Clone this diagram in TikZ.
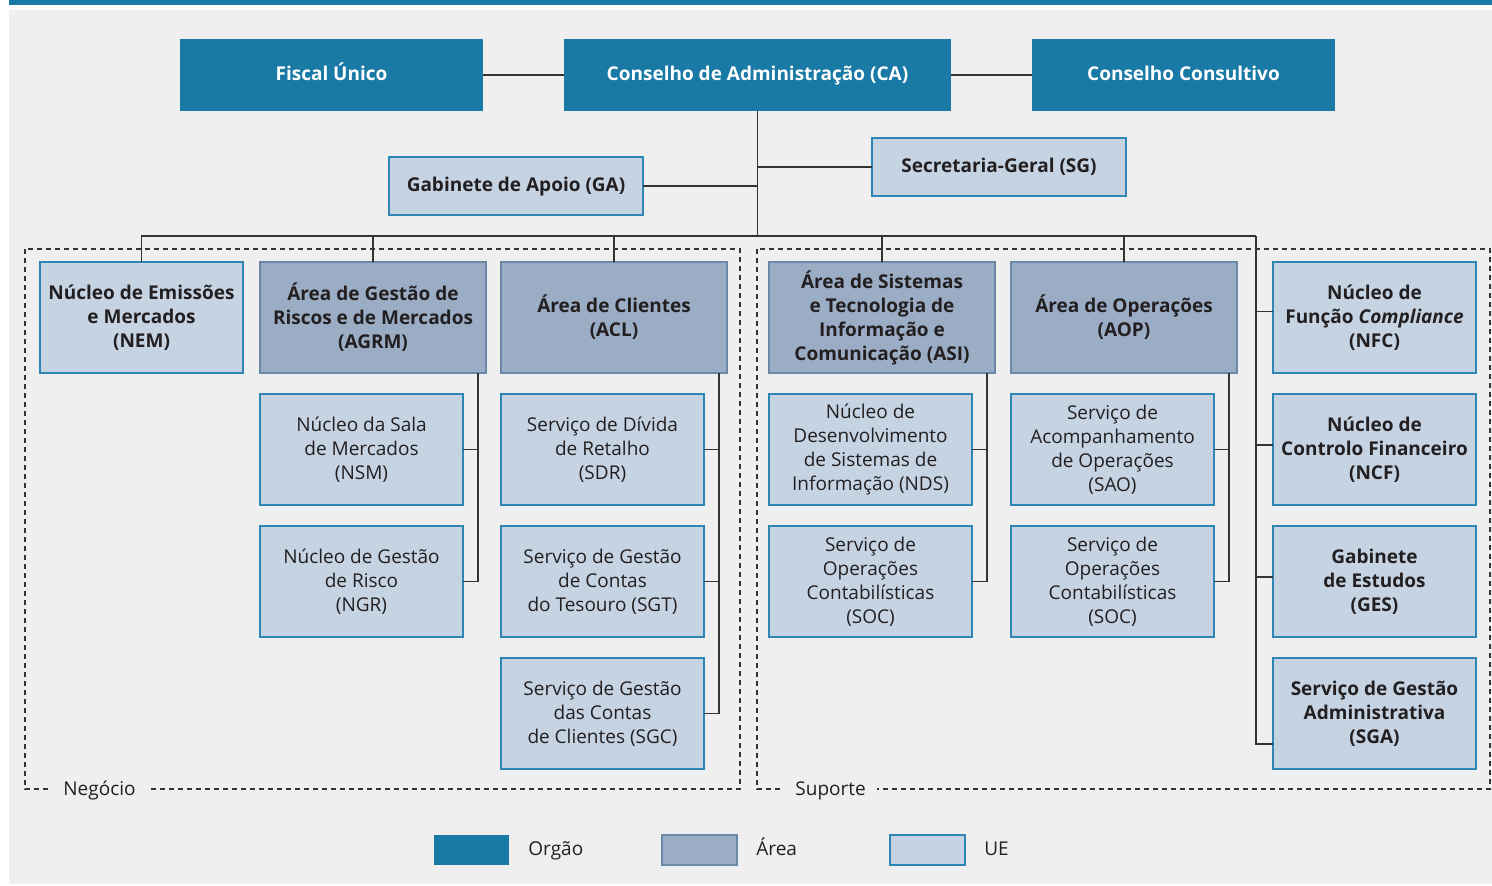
\documentclass[tikz,border=0pt]{standalone}
\usepackage{fontspec}
\setmainfont{Open Sans}
\usetikzlibrary{positioning}
\definecolor{orgaoBlue}{HTML}{1A7AA6}
\definecolor{areaFill}{HTML}{9AADC5}
\definecolor{areaLine}{HTML}{6A88A8}
\definecolor{ueFill}{HTML}{C5D3E3}
\definecolor{ueLine}{HTML}{2E86B4}
\definecolor{bgGray}{HTML}{EFEFEF}
\definecolor{txt}{HTML}{231F20}
\definecolor{wire}{HTML}{333333}
\newcommand{\boxfont}{\fontsize{9.5}{12}\selectfont}

\begin{document}
\begin{tikzpicture}[
    x=0.5pt, y=-0.5pt,
    box/.style={%
      rectangle,
      inner sep=0pt,
      outer sep=0pt,
      align=center,
      anchor=north west,
      text=txt,
      font=\boxfont,
    },
    orgao/.style={%
      box,
      fill=orgaoBlue,
      text=white,
      font=\boxfont\bfseries,
      text height=7pt,
      text depth=2pt,
      minimum height=36pt,
    },
    area/.style={%
      box,
      fill=areaFill,
      draw=areaLine,
      line width=0.7pt,
      font=\boxfont\bfseries,
      minimum width=113pt,
      minimum height=55.5pt,
    },
    ue/.style={%
      box,
      fill=ueFill,
      draw=ueLine,
      line width=0.7pt,
      minimum width=101.5pt,
      minimum height=55.5pt,
    },
    uebold/.style={%
      ue,
      font=\boxfont\bfseries,
    },
    wire/.style={%
      draw=wire,
      line width=0.8pt,
    },
    region/.style={%
      draw=wire,
      dash pattern=on 2.5pt off 2pt,
      line width=0.6pt,
    },
    regionlabel/.style={%
      fill=bgGray,
      inner xsep=5.5pt,
      inner ysep=1pt,
      anchor=west,
      text=txt,
      text height=7pt,
      text depth=2pt,
      font=\boxfont,
    },
    swatch/.style={%
      rectangle,
      inner sep=0pt,
      outer sep=0pt,
      anchor=north west,
      minimum width=37.5pt,
      minimum height=15pt,
      line width=0.7pt,
    },
    legendtext/.style={%
      inner sep=0pt,
      text=txt,
      text height=7pt,
      text depth=2pt,
      font=\boxfont,
    },
  ]

    \useasboundingbox (0,0) rectangle (1492,885);
    \fill[orgaoBlue] (9,0) rectangle (1492,5);
    \fill[bgGray] (9,10) rectangle (1492,884);

    % orgaos
    \node [orgao, minimum width=151.5pt] (FU) at (180,39) {Fiscal Único};
    \node [orgao, minimum width=193.5pt] (CA) at (564,39) {Conselho de Administração (CA)};
    \node [orgao, minimum width=151.5pt] (CC) at (1032,39) {Conselho Consultivo};
    \node [uebold, minimum width=127pt, minimum height=29pt, text height=7pt, text depth=2pt] (SG) at (872,138) {Secretaria-Geral (SG)};
    \node [uebold, minimum width=127pt, minimum height=29pt, text height=7pt, text depth=2pt] (GA) at (389,157) {Gabinete de Apoio (GA)};

    % first row
    \node [uebold] (NEM) at (40,262) {Núcleo de Emissões\\e Mercados\\(NEM)};
    \node [area] (AGRM) at (260,262) {Área de Gestão de\\Riscos e de Mercados\\(AGRM)};
    \node [area] (ACL) at (501,262) {Área de Clientes\\(ACL)};
    \node [area] (ASI) at (769,262) {Área de Sistemas\\e Tecnologia de\\Informação e\\Comunicação (ASI)};
    \node [area] (AOP) at (1011,262) {Área de Operações\\(AOP)};
    \node [uebold] (NFC) at (1273,262) {Núcleo de\\Função \textit{Compliance}\\(NFC)};

    % units below the areas
    \node [ue, below=10.5pt of AGRM.south west, anchor=north west] (NSM) {Núcleo da Sala\\de Mercados\\(NSM)};
    \node [ue, below=10.5pt of NSM] (NGR) {Núcleo de Gestão\\de Risco\\(NGR)};
    \node [ue, below=10.5pt of ACL.south west, anchor=north west] (SDR) {Serviço de Dívida\\de Retalho\\(SDR)};
    \node [ue, below=10.5pt of SDR] (SGT) {Serviço de Gestão\\de Contas\\do Tesouro (SGT)};
    \node [ue, below=10.5pt of SGT] (SGC) {Serviço de Gestão\\das Contas\\de Clientes (SGC)};
    \node [ue, below=10.5pt of ASI.south west, anchor=north west] (NDS) {Núcleo de\\Desenvolvimento\\de Sistemas de\\Informação (NDS)};
    \node [ue, below=10.5pt of NDS] (SOCa) {Serviço de\\Operações\\Contabilísticas\\(SOC)};
    \node [ue, below=10.5pt of AOP.south west, anchor=north west] (SAO) {Serviço de\\Acompanhamento\\de Operações\\(SAO)};
    \node [ue, below=10.5pt of SAO] (SOCb) {Serviço de\\Operações\\Contabilísticas\\(SOC)};
    \node [uebold, below=10.5pt of NFC] (NCF) {Núcleo de\\Controlo Financeiro\\(NCF)};
    \node [uebold, below=10.5pt of NCF] (GES) {Gabinete\\de Estudos\\(GES)};
    \node [uebold, below=10.5pt of GES] (SGA) {Serviço de Gestão\\Administrativa\\(SGA)};

    % regions
    \draw [region] (25,249) rectangle (740,789);
    \draw [region] (757,249) rectangle (1490,789);
    \node [regionlabel] (negocio) at (52,790) {Negócio};
    \node [regionlabel] (suporte) at (784,790) {Suporte};

    % top connectors
    \coordinate (trunk) at (757,236);
    \coordinate (busR) at (1256,236);
    \draw [wire] (FU) -- (CA);
    \draw [wire] (CA) -- (CC);
    \draw [wire] (CA.south) -- (CA.south |- trunk);
    \draw [wire] (SG.west) -- (SG.west -| CA.south);
    \draw [wire] (GA.east) -- (GA.east -| CA.south);
    \draw [wire] (NEM.north) |- (busR);
    \draw [wire] (AGRM.north) -- (AGRM.north |- busR);
    \draw [wire] (ACL.north) -- (ACL.north |- busR);
    \draw [wire] (ASI.north) -- (ASI.north |- busR);
    \draw [wire] (AOP.north) -- (AOP.north |- busR);

    % right column
    \draw [wire] (busR) |- ([yshift=-15.25pt]SGA.west);
    \draw [wire] ([yshift=3pt]NFC.west) -- ([yshift=3pt]NFC.west -| busR);
    \draw [wire] ([yshift=2.25pt]NCF.west) -- ([yshift=2.25pt]NCF.west -| busR);
    \draw [wire] ([yshift=2.25pt]GES.west) -- ([yshift=2.25pt]GES.west -| busR);

    % area connectors
    \draw [wire] (NSM.east) -| ([xshift=-4pt]AGRM.south east);
    \draw [wire] (NGR.east) -| ([xshift=-4pt]AGRM.south east);
    \draw [wire] (SDR.east) -| ([xshift=-4pt]ACL.south east);
    \draw [wire] (SGT.east) -| ([xshift=-4pt]ACL.south east);
    \draw [wire] (SGC.east) -| ([xshift=-4pt]ACL.south east);
    \draw [wire] (NDS.east) -| ([xshift=-4pt]ASI.south east);
    \draw [wire] (SOCa.east) -| ([xshift=-4pt]ASI.south east);
    \draw [wire] (SAO.east) -| ([xshift=-4pt]AOP.south east);
    \draw [wire] (SOCb.east) -| ([xshift=-4pt]AOP.south east);

    % legend
    \node [swatch, fill=orgaoBlue] (lgOrgao) at (434,835) {};
    \node [legendtext, right=9.5pt of lgOrgao] (lgOrgaoTxt) {Orgão};
    \node [swatch, fill=areaFill, draw=areaLine] (lgArea) at (662,835) {};
    \node [legendtext, right=9.5pt of lgArea] (lgAreaTxt) {Área};
    \node [swatch, fill=ueFill, draw=ueLine] (lgUE) at (890,835) {};
    \node [legendtext, right=9.5pt of lgUE] (lgUETxt) {UE};

\end{tikzpicture}
\end{document}
